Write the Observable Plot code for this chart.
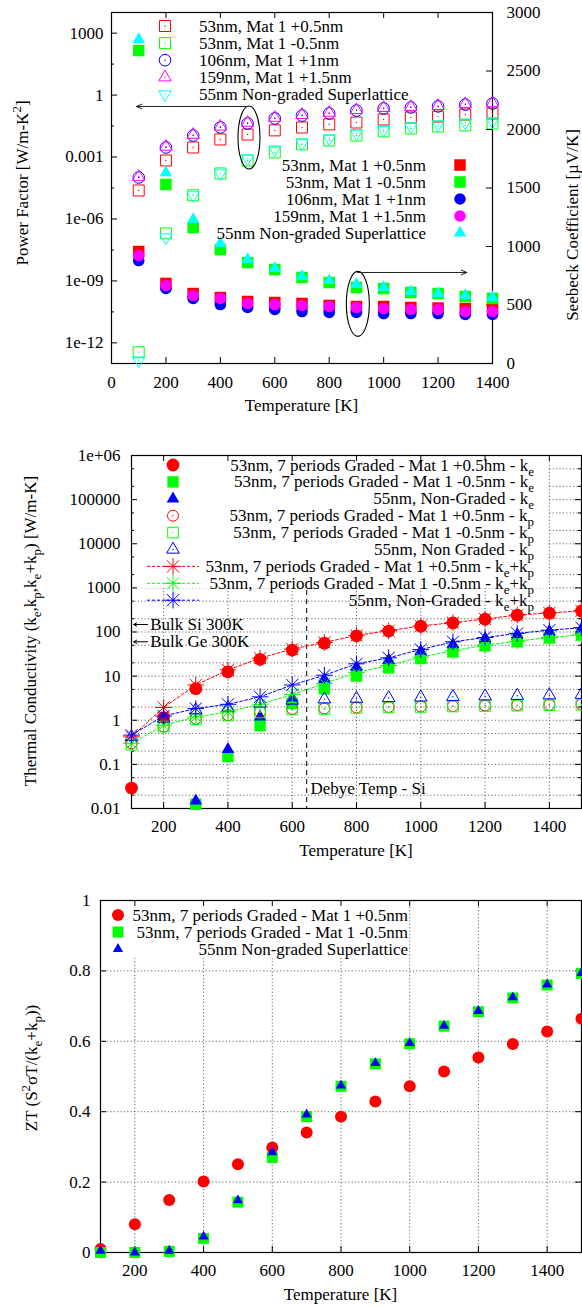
<!DOCTYPE html>
<html><head><meta charset="utf-8">
<script src="https://cdn.jsdelivr.net/npm/d3@7"></script>
<script src="https://cdn.jsdelivr.net/npm/@observablehq/plot@0.6"></script>
<style>
body{margin:0;background:#fff;}
#root{position:relative;width:582px;height:1308px;overflow:hidden;background:#fff;}
#root svg{position:absolute;left:0;}
</style></head><body><div id="root"></div>
<script>
const FONT = '"Liberation Serif","Times New Roman",serif';
const RED="#ff0000", GREEN="#00ff00", BLUE="#0000ff", MAG="#ff00ff", CYAN="#00ffff";

// ---------------- Panel 1 data ----------------
const temps1 = [100,200,300,400,500,600,700,800,900,1000,1100,1200,1300,1400];
const pf53p = [2.4e-5,6.8e-4,2.9e-3,7.1e-3,1.23e-2,1.95e-2,2.7e-2,3.8e-2,4.7e-2,6.6e-2,8.3e-2,9.1e-2,0.115,0.129];
const pf53m = [3.5e-13,2.0e-7,1.4e-5,1.6e-4,6.8e-4,1.66e-3,4.1e-3,6.3e-3,1.1e-2,1.74e-2,2.4e-2,3.0e-2,3.4e-2,4.2e-2];
const pf106 = [1.02e-4,2.9e-3,1.1e-2,2.7e-2,4.2e-2,7.4e-2,0.102,0.129,0.178,0.224,0.251,0.282,0.347,0.389];
const pf159 = [1.1e-4,3.2e-3,1.2e-2,3.0e-2,4.6e-2,8.0e-2,0.11,0.14,0.19,0.24,0.27,0.30,0.37,0.41];
const pf55  = [1.4e-13,1.26e-7,1.4e-5,1.6e-4,8.5e-4,2.3e-3,4.6e-3,7.9e-3,1.38e-2,2.1e-2,3.0e-2,3.8e-2,4.7e-2,5.2e-2];
const s53p = [957,684,598,564,530,521,513,496,487,487,479,474,470,470];
const s53m = [2675,1530,1162,974,863,803,735,692,650,641,607,598,573,556];
const s106 = [880,641,556,504,479,462,444,436,436,427,427,427,419,419];
const s159 = [923,667,581,556,513,504,496,487,479,470,462,462,444,444];
const s55  = [2769,1632,1231,1026,889,812,744,709,675,650,615,598,581,564];
const series1 = ["53nm, Mat 1 +0.5nm","53nm, Mat 1 -0.5nm","106nm, Mat 1 +1nm","159nm, Mat 1 +1.5nm","55nm Non-graded Superlattice"];
const xTicks1 = [0,200,400,600,800,1000,1200,1400];
const pfTicks = [1e-12,1e-9,1e-6,1e-3,1,1000];
const pfTickLabels = ["1e-12","1e-09","1e-06","0.001","1","1000"];
const pfMinor = [3.16e-11,3.16e-8,3.16e-5,0.0316,31.6];
const seebTicks = [0,500,1000,1500,2000,2500,3000];

// ---------------- Panel 2 data ----------------
const temps2 = [100,200,300,400,500,600,700,800,900,1000,1100,1200,1300,1400,1500];
const ke53p = [0.029,1.15,5.2,12.5,24,39,56,82,105,135,161,195,240,267,300];
const ke53m = [null,null,0.0125,0.15,0.75,2.4,5.1,10,15.4,25,35.5,48.5,60,73,85];
const ke55  = [null,null,0.015,0.22,1.2,3.2,8.5,16,23,37,52,72,88,103,118];
const kp53p = [0.30,0.72,1.08,1.3,1.55,1.8,1.85,1.95,2.0,2.05,2.1,2.15,2.2,2.25,2.3];
const kp53m = [0.28,0.72,1.05,1.28,1.5,1.75,1.8,1.9,1.95,2.0,2.05,2.1,2.15,2.2,2.25];
const kp55  = [0.42,1.1,1.7,1.9,2.4,2.8,3.0,3.1,3.2,3.3,3.4,3.5,3.6,3.7,3.8];
const kt53p = [0.42,1.95,6.3,13.8,25.5,41,58,84,107,137,163,197,242,270,302];
const kt53m = [0.30,0.77,1.19,1.54,2.3,3.8,6.8,12,17.4,27,37.5,50.5,62,75,87];
const kt55  = [0.46,1.25,1.84,2.3,3.4,6.3,10.5,19,26,40,60,75,93,110,125];
const series2 = [
  "53nm, 7 periods Graded - Mat 1 +0.5hm - k_e",
  "53nm, 7 periods Graded - Mat 1 -0.5nm - k_e",
  "55nm, Non-Graded - k_e",
  "53nm, 7 periods Graded - Mat 1 +0.5nm - k_p",
  "53nm, 7 periods Graded - Mat 1 -0.5nm - k_p",
  "55nm, Non Graded - k_p",
  "53nm, 7 periods Graded - Mat 1 +0.5nm - k_e+k_p",
  "53nm, 7 periods Graded - Mat 1 -0.5nm - k_e+k_p",
  "55nm, Non-Graded - k_e+k_p"];
const kTicks = [0.01,0.1,1,10,100,1000,10000,100000,1e6];
const kTickLabels = ["0.01","0.1","1","10","100","1000","10000","100000","1e+06"];
const kMinor = [0.02,0.05,0.2,0.5,2,5,20,50,200,500,2000,5000,2e4,5e4,2e5,5e5];
const xTicks2 = [200,400,600,800,1000,1200,1400];
const bulkLabels = ["Bulk Si 300K","Bulk Ge 300K"];
const bulkK = [148,60];
const debyeT = 645, debyeLabel = "Debye Temp - Si";

// ---------------- Panel 3 data ----------------
const zt53p = [0.01,0.08,0.149,0.202,0.251,0.298,0.341,0.386,0.429,0.472,0.514,0.554,0.592,0.628,0.664];
const zt53m = [0.0,0.0,0.003,0.04,0.143,0.27,0.386,0.472,0.536,0.593,0.643,0.684,0.723,0.760,0.793];
const zt55  = [0.005,0.0,0.005,0.045,0.148,0.285,0.392,0.474,0.538,0.595,0.644,0.686,0.725,0.761,0.794];
const series3 = ["53nm, 7 periods Graded - Mat 1 +0.5nm","53nm, 7 periods Graded - Mat 1 -0.5nm","55nm Non-graded Superlattice"];
const ztTicks = [0,0.2,0.4,0.6,0.8,1];
const ztTickLabels = ["0","0.2","0.4","0.6","0.8","1"];

// ---------------- helpers ----------------
const root = document.getElementById("root");
const STYLE = {fontFamily: FONT, fontSize: "17px", background: "transparent", color: "black", overflow: "visible"};
const rows = (xs, ys) => xs.map((x,i)=>({x, y: ys[i]})).filter(d => d.y != null);
const GRID = {stroke:"#444", strokeWidth:0.8, strokeDasharray:"1.2,2.2"};
const STAR_PLUS = 5.4, STAR_TIMES = 5.6;

function openDot(data, color, symbol, r, rotate=0){
  return [
    Plot.dot(data, {x:"x", y:"y", symbol, r, fill:"none", stroke:color, strokeWidth:1, rotate}),
    Plot.dot(data, {x:"x", y:"y", r:0.7, fill:color, stroke:"none"})
  ];
}
function fillDot(data, color, symbol, r){
  return Plot.dot(data, {x:"x", y:"y", symbol, r, fill:color, stroke:"none"});
}
function starDot(data, color){
  return [
    Plot.dot(data, {x:"x", y:"y", symbol:"plus", r:STAR_PLUS, fill:"none", stroke:color, strokeWidth:1}),
    Plot.dot(data, {x:"x", y:"y", symbol:"times", r:STAR_TIMES, fill:"none", stroke:color, strokeWidth:1})
  ];
}
function richText(g, str, x, y, anchor, transform){
  const t = g.append("text").attr("x", x).attr("y", y).attr("text-anchor", anchor)
    .attr("font-family", FONT).attr("font-size", 17).attr("fill", "black");
  if (transform) t.attr("transform", transform);
  const parts = []; let buf = "", i = 0;
  while (i < str.length) {
    const c = str[i];
    if ((c === "_" || c === "^") && i + 1 < str.length) {
      if (buf) { parts.push({t: buf, m: 0}); buf = ""; }
      parts.push({t: str[i+1], m: c === "_" ? -1 : 1}); i += 2;
    } else { buf += c; i++; }
  }
  if (buf) parts.push({t: buf, m: 0});
  let shift = 0;
  for (const p of parts) {
    const target = p.m === -1 ? 5 : p.m === 1 ? -7 : 0;
    const ts = t.append("tspan").text(p.t);
    if (target !== shift) { ts.attr("dy", target - shift); shift = target; }
    if (p.m !== 0) ts.attr("font-size", 13);
  }
  return t;
}
const SYM = {circle: d3.symbolCircle, square: d3.symbolSquare, triangle: d3.symbolTriangle, plus: d3.symbolPlus, times: d3.symbolTimes};
function drawSym(g, cx, cy, it){
  if (it.symbol === "star") {
    drawSym(g, cx, cy, {symbol:"plus", r:STAR_PLUS, color:it.color, stroke:true});
    drawSym(g, cx, cy, {symbol:"times", r:STAR_TIMES, color:it.color, stroke:true});
    return;
  }
  const p = g.append("path").attr("d", d3.symbol(SYM[it.symbol], Math.PI*it.r*it.r)())
    .attr("transform", `translate(${cx},${cy})` + (it.rotate ? ` rotate(${it.rotate})` : ""));
  if (it.open || it.stroke) p.attr("fill","none").attr("stroke", it.color).attr("stroke-width", 1);
  else p.attr("fill", it.color);
  if (it.open) g.append("circle").attr("cx",cx).attr("cy",cy).attr("r",0.7).attr("fill",it.color);
}
function legendMark(top, items, cfg){
  return () => {
    const g = d3.create("svg:g");
    items.forEach((it, i) => {
      const cy = cfg.y0 + i*cfg.dy - top;
      if (it.line) g.append("line").attr("x1", cfg.lx1).attr("x2", cfg.lx2).attr("y1", cy).attr("y2", cy)
        .attr("stroke", it.color).attr("stroke-width", 1).attr("stroke-dasharray", "3,2");
      drawSym(g, cfg.mx, cy, it);
      richText(g, it.label, cfg.tx, cy + 5.5, cfg.anchor);
    });
    return g.node();
  };
}
function boxMark(top, x1, x2, y1, y2){
  return () => {
    const g = d3.create("svg:g");
    g.append("rect").attr("x", x1).attr("y", y1 - top).attr("width", x2 - x1).attr("height", y2 - y1).attr("fill", "white");
    return g.node();
  };
}
function labelMark(top, specs){
  return () => {
    const g = d3.create("svg:g");
    for (const s of specs) {
      if (s.rotate) richText(g, s.text, 0, 0, "middle", `translate(${s.x},${s.y - top}) rotate(-90)`);
      else richText(g, s.text, s.x, s.y - top, "middle");
    }
    return g.node();
  };
}
function ellipseMark(specs){
  return (index, scales) => {
    const g = d3.create("svg:g");
    for (const s of specs) {
      g.append("ellipse").attr("cx", scales.x(s.x)).attr("cy", scales.y(s.y)).attr("rx", s.rx).attr("ry", s.ry)
        .attr("fill", "none").attr("stroke", "black").attr("stroke-width", 1.1);
    }
    return g.node();
  };
}
function place(plot, top){ plot.style.top = top + "px"; root.appendChild(plot); }

// ================= Panel 1 =================
{
  const top = 0, H = 420, mt = 12, mb = 57, ml = 111, mr = 90;
  const fw = 582 - ml - mr, fh = H - mt - mb;
  const legA = [
    {label: series1[0], color: RED, symbol: "square", r: 6.2, open: true},
    {label: series1[1], color: GREEN, symbol: "square", r: 6.2, open: true},
    {label: series1[2], color: BLUE, symbol: "circle", r: 5.8, open: true},
    {label: series1[3], color: MAG, symbol: "triangle", r: 4.6, open: true},
    {label: series1[4], color: CYAN, symbol: "triangle", r: 4.6, open: true, rotate: 180}];
  const legB = [
    {label: series1[0], color: RED, symbol: "square", r: 6.5},
    {label: series1[1], color: GREEN, symbol: "square", r: 6.5},
    {label: series1[2], color: BLUE, symbol: "circle", r: 5.8},
    {label: series1[3], color: MAG, symbol: "circle", r: 5.8},
    {label: series1[4], color: CYAN, symbol: "triangle", r: 4.6}];
  const p1a = Plot.plot({
    width: 582, height: H, marginTop: mt, marginBottom: mb, marginLeft: ml, marginRight: mr,
    style: STYLE,
    x: {domain: [0, 1400]},
    y: {type: "log", domain: [1e-13, 1e4]},
    marks: [
      Plot.frame({stroke: "black", strokeWidth: 1.2}),
      Plot.ruleX(xTicks1, {insetTop: fh - 6, stroke: "black"}),
      Plot.ruleX(xTicks1, {insetBottom: fh - 6, stroke: "black"}),
      Plot.ruleY(pfTicks, {insetRight: fw - 6, stroke: "black"}),
      Plot.ruleY(pfMinor, {insetRight: fw - 3, stroke: "black"}),
      Plot.axisX({ticks: xTicks1, tickSize: 0, tickPadding: 12, label: null, tickFormat: d => String(d)}),
      Plot.axisY({ticks: pfTicks, tickSize: 0, tickPadding: 8, label: null, tickFormat: d => pfTickLabels[pfTicks.indexOf(d)]}),
      ...openDot(rows(temps1, pf53p), RED, "square", 6.2),
      ...openDot(rows(temps1, pf53m), GREEN, "square", 6.2),
      ...openDot(rows(temps1, pf106), BLUE, "circle", 5.8),
      ...openDot(rows(temps1, pf159), MAG, "triangle", 4.6),
      ...openDot(rows(temps1, pf55), CYAN, "triangle", 4.6, 180),
      ellipseMark([{x: 507, y: 8.3e-3, rx: 11, ry: 31.5}]),
      Plot.arrow([{x1: 495, x2: 91, y: 0.28}], {x1: "x1", x2: "x2", y1: "y", y2: "y", stroke: "#222", strokeWidth: 1, headLength: 9, headAngle: 45}),
      legendMark(top, legA, {y0: 26, dy: 17.1, mx: 165, tx: 199, anchor: "start"}),
      labelMark(top, [
        {text: "Power Factor [W/m-K^2]", x: 28, y: 183, rotate: true},
        {text: "Temperature [K]", x: 301.5, y: 411}])
    ]
  });
  place(p1a, top);
  const p1b = Plot.plot({
    width: 582, height: H, marginTop: mt, marginBottom: mb, marginLeft: ml, marginRight: mr,
    style: STYLE,
    x: {domain: [0, 1400], axis: null},
    y: {domain: [0, 3000], axis: null},
    marks: [
      Plot.ruleY(seebTicks, {insetLeft: fw - 6, stroke: "black"}),
      Plot.axisY({anchor: "right", ticks: seebTicks, tickSize: 0, tickPadding: 14, label: null, tickFormat: d => String(d)}),
      fillDot(rows(temps1, s53p), RED, "square", 6.5),
      fillDot(rows(temps1, s53m), GREEN, "square", 6.5),
      fillDot(rows(temps1, s106), BLUE, "circle", 5.8),
      fillDot(rows(temps1, s159), MAG, "circle", 5.8),
      fillDot(rows(temps1, s55), CYAN, "triangle", 4.6),
      ellipseMark([{x: 907, y: 505, rx: 11.5, ry: 32.5}]),
      Plot.arrow([{x1: 904, x2: 1306, y: 778}], {x1: "x1", x2: "x2", y1: "y", y2: "y", stroke: "#222", strokeWidth: 1, headLength: 9, headAngle: 45}),
      legendMark(top, legB, {y0: 165, dy: 17, mx: 460, tx: 426, anchor: "end"}),
      labelMark(top, [{text: "Seebeck Coefficient [µV/K]", x: 578, y: 225, rotate: true}])
    ]
  });
  place(p1b, top);
}

// ================= Panel 2 =================
{
  const top = 420, H = 460, mt = 35, mb = 72, ml = 131, mr = 1;
  const fw = 582 - ml - mr, fh = H - mt - mb;
  const leg = [
    {label: series2[0], color: RED, symbol: "circle", r: 6.4},
    {label: series2[1], color: GREEN, symbol: "square", r: 6.4},
    {label: series2[2], color: BLUE, symbol: "triangle", r: 4.7},
    {label: series2[3], color: RED, symbol: "circle", r: 5.5, open: true},
    {label: series2[4], color: GREEN, symbol: "square", r: 6, open: true},
    {label: series2[5], color: BLUE, symbol: "triangle", r: 4.7, open: true},
    {label: series2[6], color: RED, symbol: "star", line: true},
    {label: series2[7], color: GREEN, symbol: "star", line: true},
    {label: series2[8], color: BLUE, symbol: "star", line: true}];
  const bulk = bulkLabels.map((l, i) => ({label: l, k: bulkK[i]}));
  const p2 = Plot.plot({
    width: 582, height: H, marginTop: mt, marginBottom: mb, marginLeft: ml, marginRight: mr,
    style: STYLE,
    x: {domain: [100, 1500]},
    y: {type: "log", domain: [0.01, 1e6]},
    marks: [
      Plot.ruleY(kTicks.concat(kMinor), GRID),
      Plot.ruleX(xTicks2, GRID),
      Plot.ruleX([debyeT], {stroke: "black", strokeWidth: 1, strokeDasharray: "5,4"}),
      boxMark(top, 131.8, 548, 455.8, 588),
      Plot.frame({stroke: "black", strokeWidth: 1.2}),
      Plot.ruleX(xTicks2, {insetTop: fh - 6, stroke: "black"}),
      Plot.ruleX(xTicks2, {insetBottom: fh - 6, stroke: "black"}),
      Plot.ruleY(kTicks, {insetRight: fw - 6, stroke: "black"}),
      Plot.ruleY(kTicks, {insetLeft: fw - 6, stroke: "black"}),
      Plot.ruleY(kMinor, {insetRight: fw - 3, stroke: "black"}),
      Plot.ruleY(kMinor, {insetLeft: fw - 3, stroke: "black"}),
      Plot.axisX({ticks: xTicks2, tickSize: 0, tickPadding: 11.5, label: null, tickFormat: d => String(d)}),
      Plot.axisY({ticks: kTicks, tickSize: 0, tickPadding: 11, label: null, tickFormat: d => kTickLabels[kTicks.indexOf(d)]}),
      fillDot(rows(temps2, ke53p), RED, "circle", 6.4),
      fillDot(rows(temps2, ke53m), GREEN, "square", 6.4),
      fillDot(rows(temps2, ke55), BLUE, "triangle", 4.7),
      ...openDot(rows(temps2, kp53p), RED, "circle", 5.5),
      ...openDot(rows(temps2, kp53m), GREEN, "square", 6),
      ...openDot(rows(temps2, kp55), BLUE, "triangle", 4.7),
      Plot.line(rows(temps2, kt53p), {x: "x", y: "y", stroke: RED, strokeWidth: 1, strokeDasharray: "3,2"}),
      ...starDot(rows(temps2, kt53p), RED),
      Plot.line(rows(temps2, kt53m), {x: "x", y: "y", stroke: GREEN, strokeWidth: 1, strokeDasharray: "3,2"}),
      ...starDot(rows(temps2, kt53m), GREEN),
      Plot.line(rows(temps2, kt55), {x: "x", y: "y", stroke: BLUE, strokeWidth: 1, strokeDasharray: "3,2"}),
      ...starDot(rows(temps2, kt55), BLUE),
      Plot.arrow(bulk, {x1: 150, x2: 107, y1: "k", y2: "k", stroke: "black", strokeWidth: 1, headLength: 5, headAngle: 60}),
      Plot.text(bulk, {x: 158, y: "k", text: "label", textAnchor: "start", fontSize: 17}),
      Plot.text([{t: debyeT, k: 0.029, label: debyeLabel}], {x: 657, y: "k", text: "label", textAnchor: "start", fontSize: 17}),
      legendMark(top, leg, {y0: 465, dy: 16.9, mx: 173, lx1: 147, lx2: 199, tx: 534, anchor: "end"}),
      labelMark(top, [
        {text: "Thermal Conductivity (k_e,k_p,k_e+k_p) [W/m-K]", x: 36, y: 631, rotate: true},
        {text: "Temperature [K]", x: 356, y: 856}])
    ]
  });
  place(p2, top);
}

// ================= Panel 3 =================
{
  const top = 880, H = 428, mt = 20, mb = 56, ml = 100, mr = 1;
  const fw = 582 - ml - mr, fh = H - mt - mb;
  const leg = [
    {label: series3[0], color: RED, symbol: "circle", r: 6},
    {label: series3[1], color: GREEN, symbol: "square", r: 6.2},
    {label: series3[2], color: BLUE, symbol: "triangle", r: 3.8}];
  const p3 = Plot.plot({
    width: 582, height: H, marginTop: mt, marginBottom: mb, marginLeft: ml, marginRight: mr,
    style: STYLE,
    x: {domain: [100, 1500]},
    y: {domain: [0, 1]},
    marks: [
      Plot.ruleY([0.2, 0.4, 0.6, 0.8], GRID),
      Plot.ruleX(xTicks2, GRID),
      boxMark(top, 100.8, 407, 900.8, 958),
      Plot.frame({stroke: "black", strokeWidth: 1.2}),
      Plot.ruleX(xTicks2, {insetTop: fh - 6, stroke: "black"}),
      Plot.ruleX(xTicks2, {insetBottom: fh - 6, stroke: "black"}),
      Plot.ruleY(ztTicks, {insetRight: fw - 6, stroke: "black"}),
      Plot.ruleY(ztTicks, {insetLeft: fw - 6, stroke: "black"}),
      Plot.axisX({ticks: xTicks2, tickSize: 0, tickPadding: 11.5, label: null, tickFormat: d => String(d)}),
      Plot.axisY({ticks: ztTicks, tickSize: 0, tickPadding: 10, label: null, tickFormat: d => ztTickLabels[ztTicks.indexOf(d)]}),
      fillDot(rows(temps2, zt53p), RED, "circle", 6),
      fillDot(rows(temps2, zt53m), GREEN, "square", 6.2),
      fillDot(rows(temps2, zt55), BLUE, "triangle", 3.8),
      legendMark(top, leg, {y0: 915, dy: 17, mx: 118, tx: 408, anchor: "end"}),
      labelMark(top, [
        {text: "ZT (S^2σT/(k_e+k_p))", x: 37, y: 1068, rotate: true},
        {text: "Temperature [K]", x: 340.5, y: 1300}])
    ]
  });
  place(p3, top);
}
</script></body></html>
